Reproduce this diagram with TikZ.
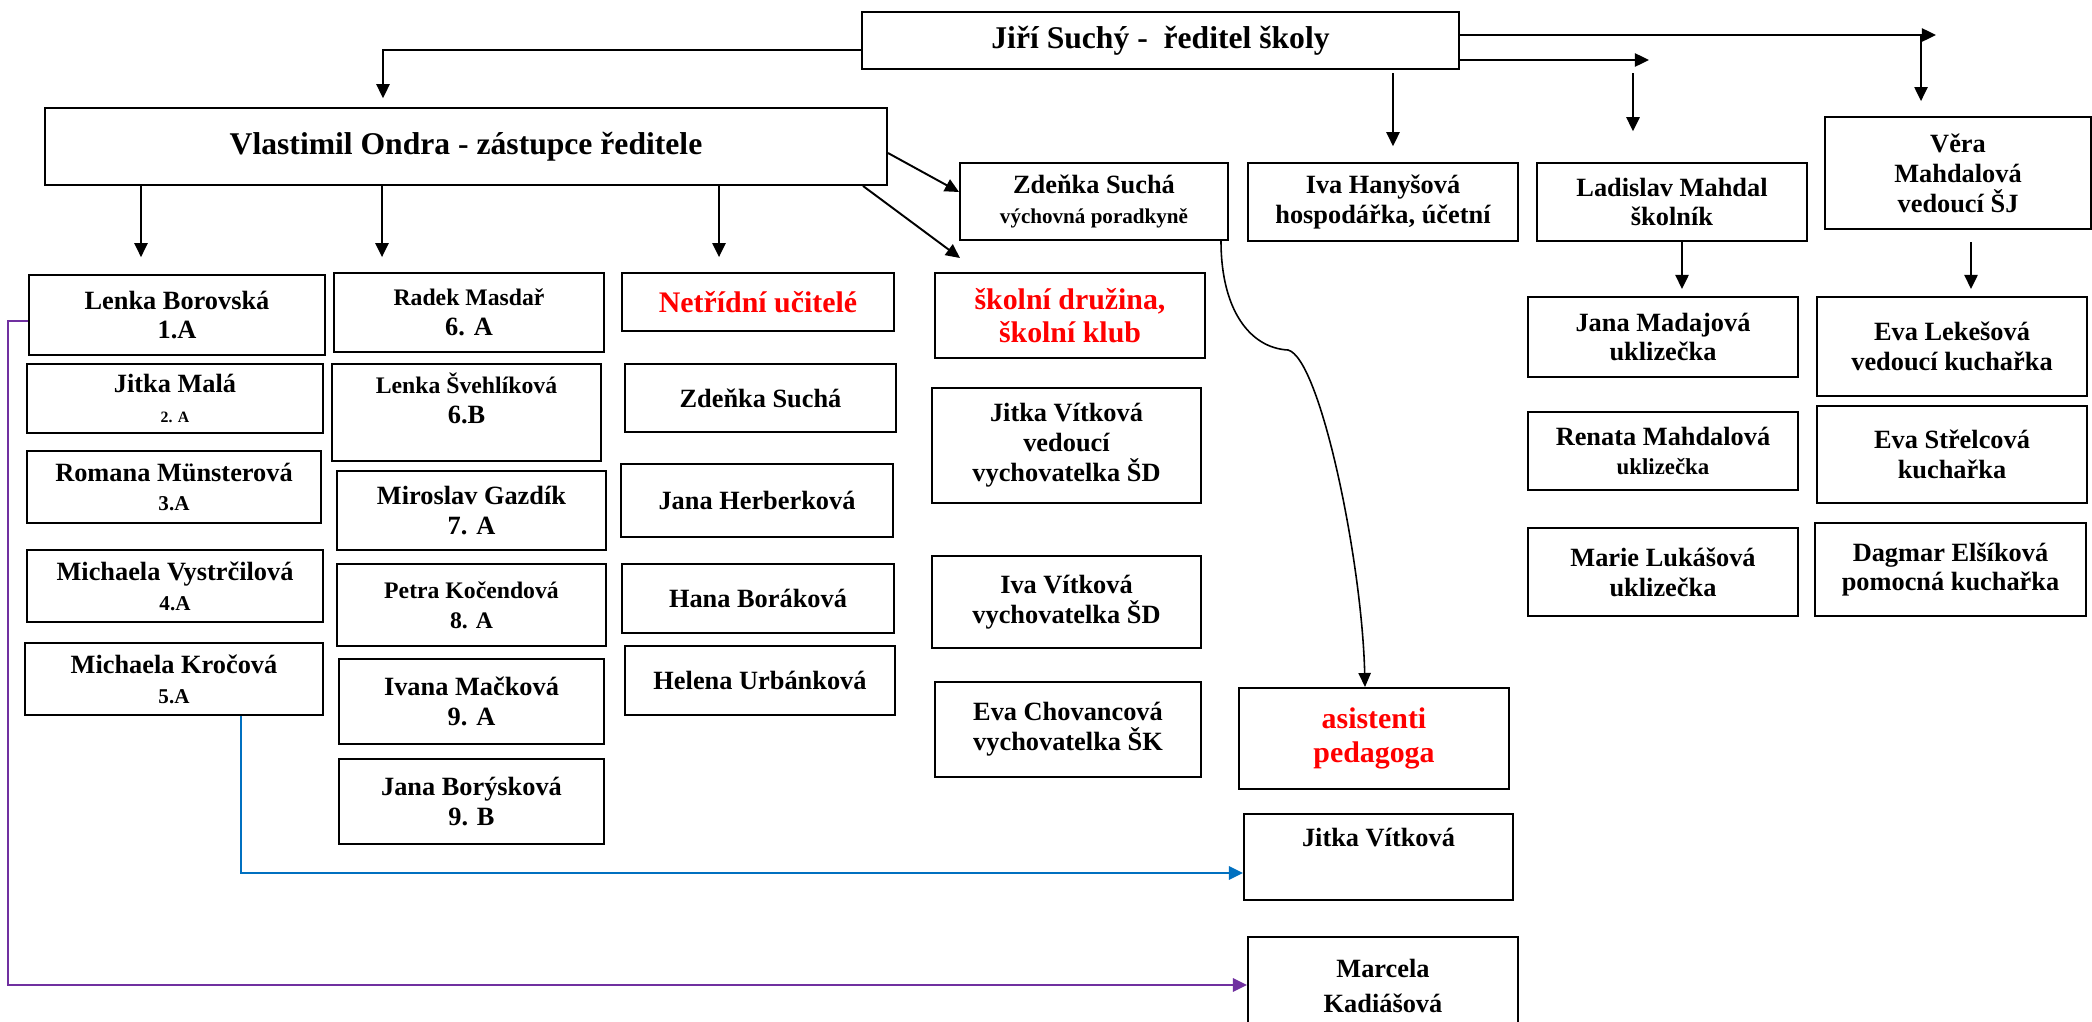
\documentclass[tikz,border=0pt]{standalone}
\usepackage{fontspec}
\setmainfont{Liberation Serif}
\usetikzlibrary{arrows.meta}
\definecolor{modra}{RGB}{0,112,192}
\definecolor{fialova}{RGB}{112,48,160}
\tikzset{
	box/.style={draw, line width=1.1pt, align=center, inner sep=1pt, font=\bfseries\fontsize{15}{17}\selectfont},
	arr/.style={line width=1.1pt, -{Triangle[length=8pt,width=7.5pt]}},
}
% ramecek zadany levym hornim a pravym dolnim rohem (v pixelech)
\newcommand{\ramec}[7][]{%
	\node[box,#1,minimum width={(#5-#3)*0.02cm},minimum height={(#6-#4)*0.02cm}] (#2) at ({(#3+#5)/2},{(#4+#6)/2}) {#7};}
\begin{document}
\begin{tikzpicture}[x=0.02cm, y=-0.02cm]
		\useasboundingbox (0,0) rectangle (2092,1021);
		
		%VEDENI
		\ramec[font=\bfseries\fontsize{18}{21}\selectfont]{dir}{862}{12}{1459}{69}{Jiří Suchý -\ \ ředitel školy}
		\ramec[font=\bfseries\fontsize{18}{21}\selectfont]{dep}{45}{108}{887}{185}{Vlastimil Ondra - zástupce ředitele}
		\ramec{zs}{960}{163}{1228}{240}{Zdeňka Suchá\\{\fontsize{12}{14}\selectfont výchovná poradkyně}}
		\ramec{ih}{1248}{163}{1518}{241}{Iva Hanyšová\\hospodářka, účetní}
		\ramec{lm}{1537}{163}{1807}{241}{Ladislav Mahdal\\školník}
		\ramec{vm}{1825}{117}{2091}{229}{Věra\\Mahdalová\\vedoucí ŠJ}
		
		%TRIDNI UCITELE 1. STUPEN
		\ramec{lb}{29}{275}{325}{355}{Lenka Borovská\\1.A}
		\ramec{jm}{27}{364}{323}{433}{Jitka Malá\\{\fontsize{9}{11}\selectfont 2. A}}
		\ramec{rm}{27}{451}{321}{523}{Romana Münsterová\\{\fontsize{12}{14}\selectfont 3.A}}
		\ramec{mv}{27}{550}{323}{622}{Michaela Vystrčilová\\{\fontsize{12}{14}\selectfont 4.A}}
		\ramec{mk}{25}{643}{323}{715}{Michaela Kročová\\{\fontsize{12}{14}\selectfont 5.A}}
		
		%TRIDNI UCITELE 2. STUPEN
		\ramec{rd}{334}{273}{604}{352}{{\fontsize{13.5}{16}\selectfont Radek Masdař}\\6. A}
		\ramec{ls}{332}{364}{601}{461}{{\fontsize{13.5}{16}\selectfont Lenka Švehlíková}\\6.B\\[-6pt]\strut}
		\ramec{mg}{337}{471}{606}{550}{Miroslav Gazdík\\7. A}
		\ramec[font=\bfseries\fontsize{13.5}{17}\selectfont]{pk}{337}{564}{606}{646}{Petra Kočendová\\8. A}
		\ramec{im}{339}{659}{604}{744}{Ivana Mačková\\9. A}
		\ramec{jb}{339}{759}{604}{844}{Jana Borýsková\\9. B}
		
		%NETRIDNI
		\ramec[text=red, font=\bfseries\fontsize{17}{19}\selectfont]{nu}{622}{273}{894}{331}{Netřídní učitelé}
		\ramec{zs2}{625}{364}{896}{432}{Zdeňka Suchá}
		\ramec{jh}{621}{464}{893}{537}{Jana Herberková}
		\ramec{hb}{622}{564}{894}{633}{Hana Boráková}
		\ramec{hu}{625}{646}{895}{715}{Helena Urbánková}
		
		%DRUZINA A KLUB
		\ramec[text=red, font=\bfseries\fontsize{17}{19}\selectfont]{sd}{935}{273}{1205}{358}{školní družina,\\školní klub}
		\ramec{jv}{932}{388}{1201}{503}{Jitka Vítková\\vedoucí\\vychovatelka ŠD}
		\ramec{iv}{932}{556}{1201}{648}{Iva Vítková\\vychovatelka ŠD}
		\ramec{ec}{935}{682}{1201}{777}{Eva Chovancová\\vychovatelka ŠK}
		
		%ASISTENTI
		\ramec[text=red, font=\bfseries\fontsize{17}{19}\selectfont]{ap}{1239}{688}{1509}{789}{asistenti\\pedagoga}
		\ramec{jv2}{1244}{814}{1513}{900}{Jitka Vítková\\\strut}
		\ramec[font=\bfseries\fontsize{15}{20}\selectfont]{mkd}{1248}{937}{1518}{1035}{Marcela\\Kadiášová}
		
		%UKLID A JIDELNA
		\ramec{jmd}{1528}{297}{1798}{377}{Jana Madajová\\uklizečka}
		\ramec{rmd}{1528}{412}{1798}{490}{Renata Mahdalová\\{\fontsize{13}{15}\selectfont uklizečka}}
		\ramec{ml}{1528}{528}{1798}{616}{Marie Lukášová\\uklizečka}
		\ramec{el}{1817}{297}{2087}{396}{Eva Lekešová\\vedoucí kuchařka}
		\ramec{es}{1817}{406}{2087}{503}{Eva Střelcová\\kuchařka}
		\ramec{de}{1815}{523}{2086}{616}{Dagmar Elšíková\\pomocná kuchařka}
		
		%SIPKY OD REDITELE
		\coordinate (r1) at (1936,35);
		\coordinate (r1a) at (1921,35);
		\coordinate (r2) at (1649,60);
		\coordinate (r2a) at (1633,73);
		\coordinate (r3a) at (1393,73);
		\draw[arr, shorten >=5pt] (dir.west |- 0,50) -| (dep.north -| 383,0);
		\draw[arr] (dir.east |- 0,35) -- (r1);
		\draw[arr, shorten >=8.5pt] (r1a) -- (vm.north -| r1a);
		\draw[arr] (dir.east |- 0,60) -- (r2);
		\draw[arr, shorten >=17.5pt] (r2a) -- (lm.north -| r2a);
		\draw[arr, shorten >=9pt] (r3a) -- (ih.north -| r3a);
		
		%SIPKY OD ZASTUPCE
		\coordinate (sdtip) at (960,258);
		\draw[arr, shorten >=9.6pt] (dep.south -| 141,0) -- (lb.north -| 141,0);
		\draw[arr, shorten >=8.5pt] (dep.south -| 382,0) -- (rd.north -| 382,0);
		\draw[arr, shorten >=8.5pt] (dep.south -| 719,0) -- (nu.north -| 719,0);
		\draw[arr] (dep.east |- 0,153) -- (zs.west |- 0,192);
		\draw[arr] (dep.south -| 863,0) -- (sdtip);
		
		%OSTATNI
		\draw[line width=0.9pt, -{Triangle[length=8pt,width=7pt]}] (zs.south -| 1221,0) .. controls (1221,310) and (1250,348) .. (1288,350) .. controls (1320,358) and (1362,560) .. (ap.north -| 1365,0);
		\draw[arr, shorten >=4pt] (lm.south -| 1682,0) -- (jmd.north -| 1682,0);
		\draw[arr, shorten <=7pt, shorten >=4pt] (vm.south -| 1971,0) -- (el.north -| 1971,0);
		\draw[line width=1.3pt, modra, -{Triangle[length=8pt,width=7.5pt]}] (mk.south -| 241,0) |- (jv2.west |- 0,873);
		\draw[line width=1.3pt, fialova, -{Triangle[length=8pt,width=7.5pt]}] (lb.west |- 0,321) -- (8,321) |- (mkd.west |- 0,985);
	\end{tikzpicture}
\end{document}
